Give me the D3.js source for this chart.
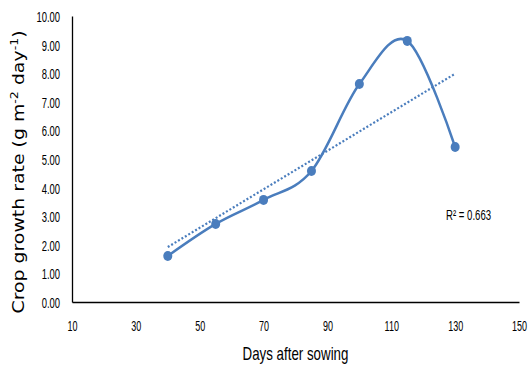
<!DOCTYPE html>
<html>
<head>
<meta charset="utf-8">
<script src="https://cdn.jsdelivr.net/npm/d3@7"></script>
<style>
  body { margin: 0; background: #fff; }
  .tick text { font-family: "Liberation Sans", Arial, sans-serif; font-size: 15px; fill: #000; }
</style>
</head>
<body>
<div id="chart"></div>
<script>
// data
var days = [40, 55, 70, 85, 100, 115, 130];
var cgr = [1.61, 2.73, 3.57, 4.58, 7.62, 9.13, 5.42];
var xTicks = [10, 30, 50, 70, 90, 110, 130, 150];
var yTicks = [0, 1, 2, 3, 4, 5, 6, 7, 8, 9, 10];
var r2Label = "R² = 0.663";

var w = 529, h = 369;
var m = { left: 72, right: 10, top: 16, bottom: 67 };
var blue = "#4a7dbd";
var narrow = "'Liberation Sans', Arial, sans-serif";

var svg = d3.select("#chart")
    .append("svg")
    .attr("width", w)
    .attr("height", h);

var x = d3.scaleLinear().domain([10, 150]).range([m.left, w - m.right]);
var y = d3.scaleLinear().domain([0, 10]).range([h - m.bottom, m.top]);

// axes, no tick marks; labels squeezed to look condensed
var xAxis = svg.append("g")
    .attr("transform", "translate(0," + y(0) + ")")
    .call(d3.axisBottom(x).tickValues(xTicks).tickSize(0).tickPadding(18).tickFormat(d3.format("d")));
xAxis.selectAll(".tick text").attr("transform", "scale(0.6,1)");

var yAxis = svg.append("g")
    .attr("transform", "translate(" + x(10) + ",0)")
    .call(d3.axisLeft(y).tickValues(yTicks).tickSize(0).tickFormat(d3.format(".2f")));
yAxis.selectAll(".tick text")
    .attr("x", 0)
    .attr("dy", "0.36em")
    .attr("transform", "translate(-12,0) scale(0.63,1)");

xAxis.select(".domain").attr("stroke", "#000").attr("stroke-width", 1.3);
yAxis.select(".domain").attr("stroke", "#000").attr("stroke-width", 1.3);

// linear trend line (least squares on the series)
var mx = d3.mean(days), my = d3.mean(cgr);
var sxy = d3.sum(days, function(d, i) { return (d - mx) * (cgr[i] - my); });
var sxx = d3.sum(days, function(d) { return (d - mx) * (d - mx); });
var slope = sxy / sxx, icpt = my - slope * mx;
var x0 = d3.min(days), x1 = d3.max(days);

svg.append("line")
    .attr("x1", x(x0)).attr("y1", y(icpt + slope * x0))
    .attr("x2", x(x1)).attr("y2", y(icpt + slope * x1))
    .attr("stroke", blue)
    .attr("stroke-width", 2.2)
    .attr("stroke-dasharray", "2,2");

// smoothed series line
var pts = days.map(function(d, i) { return [d, cgr[i]]; });
var line = d3.line()
    .x(function(d) { return x(d[0]); })
    .y(function(d) { return y(d[1]); })
    .curve(d3.curveCardinal.tension(0));

svg.append("path")
    .datum(pts)
    .attr("d", line)
    .attr("fill", "none")
    .attr("stroke", blue)
    .attr("stroke-width", 2.5);

svg.selectAll("ellipse.pt")
    .data(pts)
    .enter().append("ellipse")
    .attr("class", "pt")
    .attr("cx", function(d) { return x(d[0]); })
    .attr("cy", function(d) { return y(d[1]); })
    .attr("rx", 4.5)
    .attr("ry", 5)
    .attr("fill", blue);

// R² label
svg.append("text")
    .attr("transform", "translate(446,220) scale(0.64,1)")
    .style("font-family", narrow)
    .style("font-size", "15px")
    .text(r2Label);

// axis titles
svg.append("text")
    .attr("transform", "translate(" + ((x(10) + x(150)) / 2) + ",360) scale(0.74,1)")
    .attr("text-anchor", "middle")
    .style("font-family", narrow)
    .style("font-size", "18px")
    .text("Days after sowing");

var yt = svg.append("text")
    .attr("transform", "translate(24,172) rotate(-90) scale(1.26,1)")
    .attr("text-anchor", "middle")
    .style("font-family", "'DejaVu Sans', sans-serif")
    .style("font-size", "15px");
yt.append("tspan").text("Crop growth rate (g m");
yt.append("tspan").attr("dy", -6).style("font-size", "10px").text("-2");
yt.append("tspan").attr("dy", 6).text(" day");
yt.append("tspan").attr("dy", -6).style("font-size", "10px").text("-1");
yt.append("tspan").attr("dy", 6).text(")");
</script>
</body>
</html>
